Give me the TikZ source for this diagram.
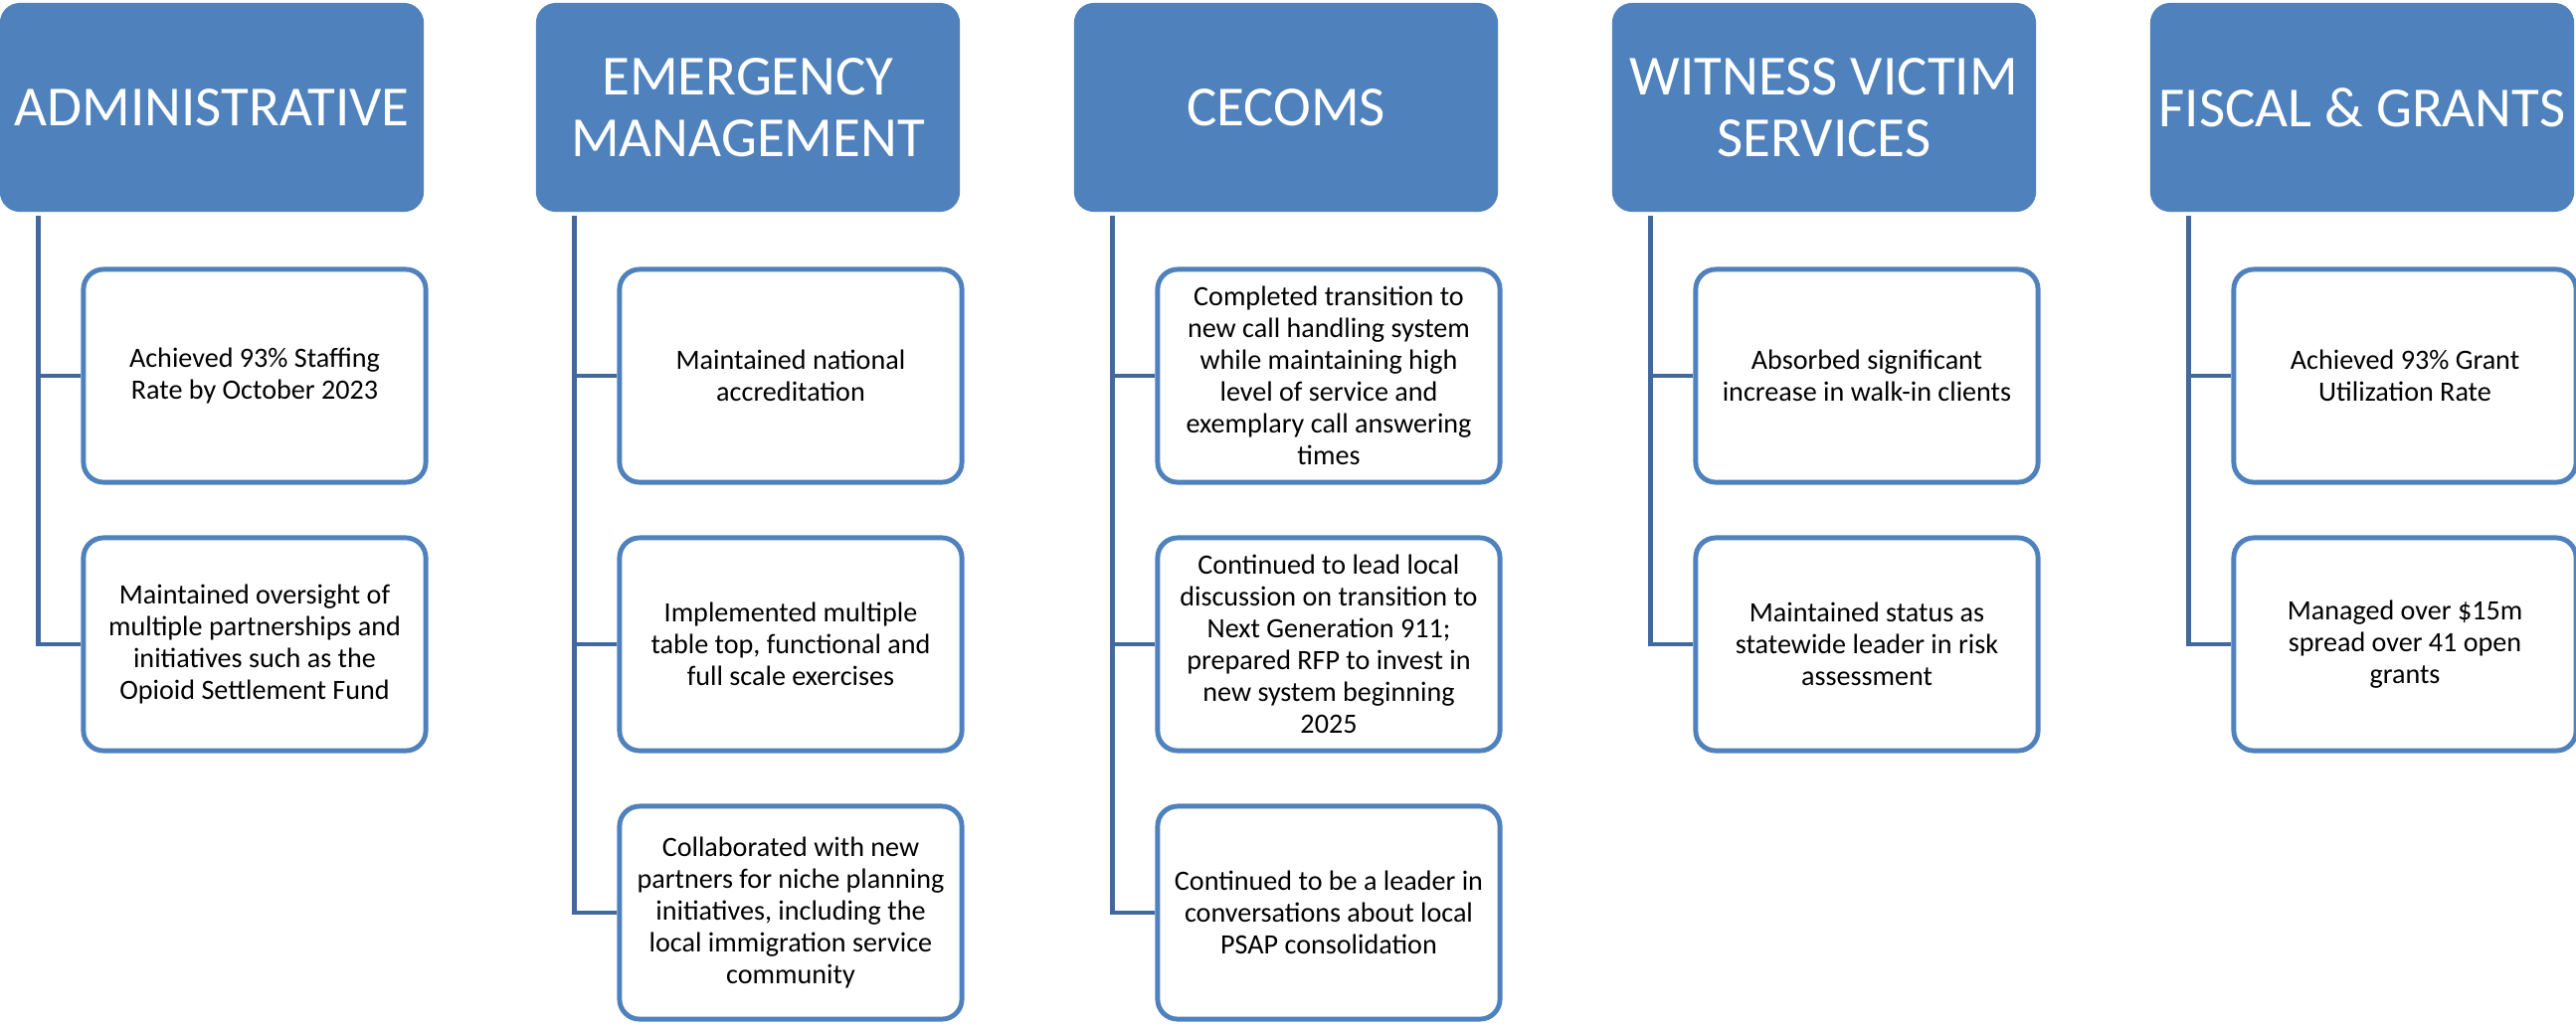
\documentclass[tikz,border=0pt]{standalone}
\usepackage{fontspec}
\setmainfont{Carlito}
\definecolor{hdrblue}{HTML}{4F81BD}
\definecolor{linkblue}{HTML}{41699F}

\begin{document}
\begin{tikzpicture}[x=0.01cm,y=-0.01cm,
  header/.style={rectangle,rounded corners=0.2cm,fill=hdrblue,text=white,
    minimum width=4.26cm,minimum height=2.10cm,inner sep=0pt,align=center,
    font=\fontsize{16.2}{17.6}\selectfont},
  item/.style={rectangle,rounded corners=0.2cm,draw=hdrblue,line width=1.4pt,
    fill=white,minimum width=3.44cm,minimum height=2.14cm,inner sep=0pt,
    align=center,font=\fontsize{8}{9.1}\selectfont},
  link/.style={draw=linkblue,line width=1.4pt}]
  \useasboundingbox (0,0) rectangle (2590,1032);

  \node[header] (adm) at (213,108) {ADMINISTRATIVE};
  \node[header] (emg) at (752,108) {EMERGENCY\\MANAGEMENT};
  \node[header] (cec) at (1293,108) {CECOMS};
  \node[header] (wvs) at (1834,108) {WITNESS VICTIM\\SERVICES};
  \node[header] (fis) at (2375,108) {FISCAL \& GRANTS};

  \node[item] (adm1) at (256,378) {Achieved 93\% Staffing\\Rate by October 2023};
  \node[item] (adm2) at (256,648) {Maintained oversight of\\multiple partnerships and\\initiatives such as the\\Opioid Settlement Fund};

  \node[item] (emg1) at (795,378) {Maintained national\\accreditation};
  \node[item] (emg2) at (795,648) {Implemented multiple\\table top, functional and\\full scale exercises};
  \node[item] (emg3) at (795,918) {Collaborated with new\\partners for niche planning\\initiatives, including the\\local immigration service\\community};

  \node[item] (cec1) at (1336,378) {Completed transition to\\new call handling system\\while maintaining high\\level of service and\\exemplary call answering\\times};
  \node[item] (cec2) at (1336,648) {Continued to lead local\\discussion on transition to\\Next Generation 911;\\prepared RFP to invest in\\new system beginning\\2025};
  \node[item] (cec3) at (1336,918) {Continued to be a leader in\\conversations about local\\PSAP consolidation};

  \node[item] (wvs1) at (1877,378) {Absorbed significant\\increase in walk-in clients};
  \node[item] (wvs2) at (1877,648) {Maintained status as\\statewide leader in risk\\assessment};

  \node[item] (fis1) at (2418,378) {Achieved 93\% Grant\\Utilization Rate};
  \node[item] (fis2) at (2418,648) {Managed over \$15m\\spread over 41 open\\grants};

  \draw[link] ([xshift=0.39cm,yshift=-0.03cm]adm.south west) |- (adm1.west);
  \draw[link] ([xshift=0.39cm,yshift=-0.03cm]adm.south west) |- (adm2.west);
  \draw[link] ([xshift=0.39cm,yshift=-0.03cm]emg.south west) |- (emg1.west);
  \draw[link] ([xshift=0.39cm,yshift=-0.03cm]emg.south west) |- (emg2.west);
  \draw[link] ([xshift=0.39cm,yshift=-0.03cm]emg.south west) |- (emg3.west);
  \draw[link] ([xshift=0.39cm,yshift=-0.03cm]cec.south west) |- (cec1.west);
  \draw[link] ([xshift=0.39cm,yshift=-0.03cm]cec.south west) |- (cec2.west);
  \draw[link] ([xshift=0.39cm,yshift=-0.03cm]cec.south west) |- (cec3.west);
  \draw[link] ([xshift=0.39cm,yshift=-0.03cm]wvs.south west) |- (wvs1.west);
  \draw[link] ([xshift=0.39cm,yshift=-0.03cm]wvs.south west) |- (wvs2.west);
  \draw[link] ([xshift=0.39cm,yshift=-0.03cm]fis.south west) |- (fis1.west);
  \draw[link] ([xshift=0.39cm,yshift=-0.03cm]fis.south west) |- (fis2.west);
\end{tikzpicture}
\end{document}
